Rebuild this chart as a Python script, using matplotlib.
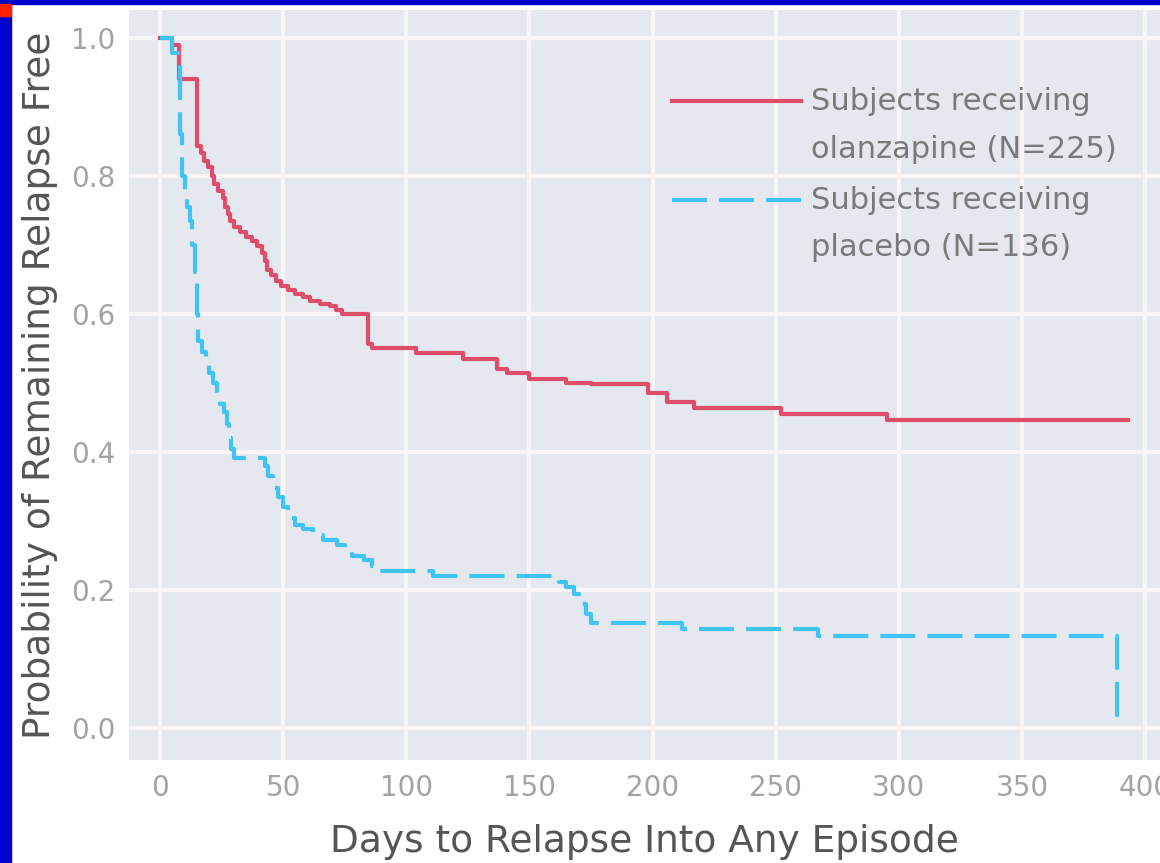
import matplotlib
matplotlib.use("Agg")
import matplotlib.pyplot as plt
from matplotlib.patches import Rectangle
from matplotlib.legend_handler import HandlerLine2D

# Kaplan-Meier step data
olz_days = [0, 5, 7.5, 15, 16.5, 18, 19.5, 21, 22, 23.5, 25.5, 26.5, 27.5,
            28.5, 30, 32.5, 35, 37.5, 39.5, 41.5, 42.5, 43.5, 45, 47, 49, 52,
            55, 58, 61, 65, 69, 71.5, 74, 84.5, 86, 104, 123, 137, 141, 150,
            165, 175, 198, 206, 217, 252, 295, 393]
olz_surv = [1.0, 0.99, 0.94, 0.843, 0.833, 0.822, 0.812, 0.80, 0.788, 0.778,
            0.768, 0.755, 0.745, 0.735, 0.726, 0.718, 0.712, 0.706, 0.698,
            0.688, 0.676, 0.664, 0.657, 0.648, 0.641, 0.635, 0.629, 0.624,
            0.619, 0.615, 0.611, 0.605, 0.60, 0.557, 0.551, 0.543, 0.535,
            0.52, 0.515, 0.506, 0.50, 0.498, 0.485, 0.473, 0.464, 0.455,
            0.447, 0.447]

pla_days = [0, 5, 8, 9, 10, 11, 12, 13, 14, 15, 15.5, 17, 18.5, 20, 21.5, 23,
            24.5, 26, 27, 28, 29, 30, 42.5, 44, 46, 48, 50, 52, 55, 58, 62, 66,
            72, 75, 78, 83, 86, 89, 111, 162, 165, 168, 171, 173, 175, 212,
            267, 388.5]
pla_surv = [1.0, 0.978, 0.86, 0.80, 0.775, 0.755, 0.735, 0.70, 0.66, 0.60,
            0.56, 0.545, 0.53, 0.515, 0.50, 0.485, 0.47, 0.458, 0.44, 0.42,
            0.405, 0.392, 0.38, 0.365, 0.348, 0.335, 0.32, 0.305, 0.295,
            0.288, 0.28, 0.272, 0.265, 0.255, 0.25, 0.243, 0.235, 0.228, 0.22,
            0.212, 0.205, 0.195, 0.18, 0.165, 0.153, 0.144, 0.134, 0.0]

x_ticks = [0, 50, 100, 150, 200, 250, 300, 350, 400]
y_ticks = [0.0, 0.2, 0.4, 0.6, 0.8, 1.0]

olz_label = "Subjects receiving\nolanzapine (N=225)"
pla_label = "Subjects receiving\nplacebo (N=136)"

RED = "#de4d69"
BLUE = "#3fc4f5"
BG = "#e6e8ef"

plt.rcParams["font.family"] = ["DejaVu Sans"]


class FirstLineHandler(HandlerLine2D):
    # put the legend line level with the first line of a two-line label
    def __init__(self, shift, **kw):
        super().__init__(**kw)
        self.shift = shift

    def create_artists(self, legend, orig_handle, xdescent, ydescent, width,
                       height, fontsize, trans):
        arts = super().create_artists(legend, orig_handle, xdescent, ydescent,
                                      width, height, fontsize, trans)
        for a in arts:
            a.set_ydata([y + self.shift for y in a.get_ydata()])
        return arts


fig = plt.figure(figsize=(11.6, 8.63), dpi=100)
ax = fig.add_axes([129 / 1160, 1 - 760 / 863, 1031 / 1160, 750 / 863])
ax.set_facecolor(BG)

l1, = ax.plot(olz_days, olz_surv, drawstyle="steps-post", color=RED, lw=3,
              label=olz_label)
l2, = ax.plot(pla_days, pla_surv, drawstyle="steps-post", color=BLUE, lw=3,
              dashes=(8.4, 2.9), label=pla_label)

ax.set_xlim(-12.6, 406)
ax.set_ylim(-0.046, 1.040)
ax.set_xticks(x_ticks)
ax.set_yticks(y_ticks)
ax.set_yticklabels([f"{v:.1f}" for v in y_ticks])
ax.grid(True, color="#f9f5f7", lw=3)
ax.set_axisbelow(True)
for s in ax.spines.values():
    s.set_visible(False)
ax.tick_params(length=0, labelsize=20, colors="#a3a3a3", pad=10)

ax.set_xlabel("Days to Relapse Into Any Episode", fontsize=27,
              color="#555555", labelpad=16)
ax.set_ylabel("Probability of Remaining Relapse Free", fontsize=27,
              color="#555555", labelpad=9)

shift = 18
leg = ax.legend(loc="upper left", bbox_to_anchor=(0.527, 0.897), frameon=False,
                fontsize=22, handlelength=4.2, handletextpad=0.33,
                labelspacing=0.72, borderpad=0, borderaxespad=0,
                handler_map={l1: FirstLineHandler(shift),
                             l2: FirstLineHandler(shift)})
for t in leg.get_texts():
    t.set_color("#7a7a7a")
    t.set_linespacing(1.8)

# frame decoration seen in the reference
fig.patches.append(Rectangle((0, 0), 11 / 1160, 1, transform=fig.transFigure,
                             color="#0000cc", zorder=10))
fig.patches.append(Rectangle((0, 1 - 4 / 863), 1, 4 / 863,
                             transform=fig.transFigure, color="#0000cc",
                             zorder=10))
fig.patches.append(Rectangle((0, 1 - 16 / 863), 11 / 1160, 12 / 863,
                             transform=fig.transFigure, color="#ff2200",
                             zorder=11))

fig.savefig("out.png", dpi=100)
